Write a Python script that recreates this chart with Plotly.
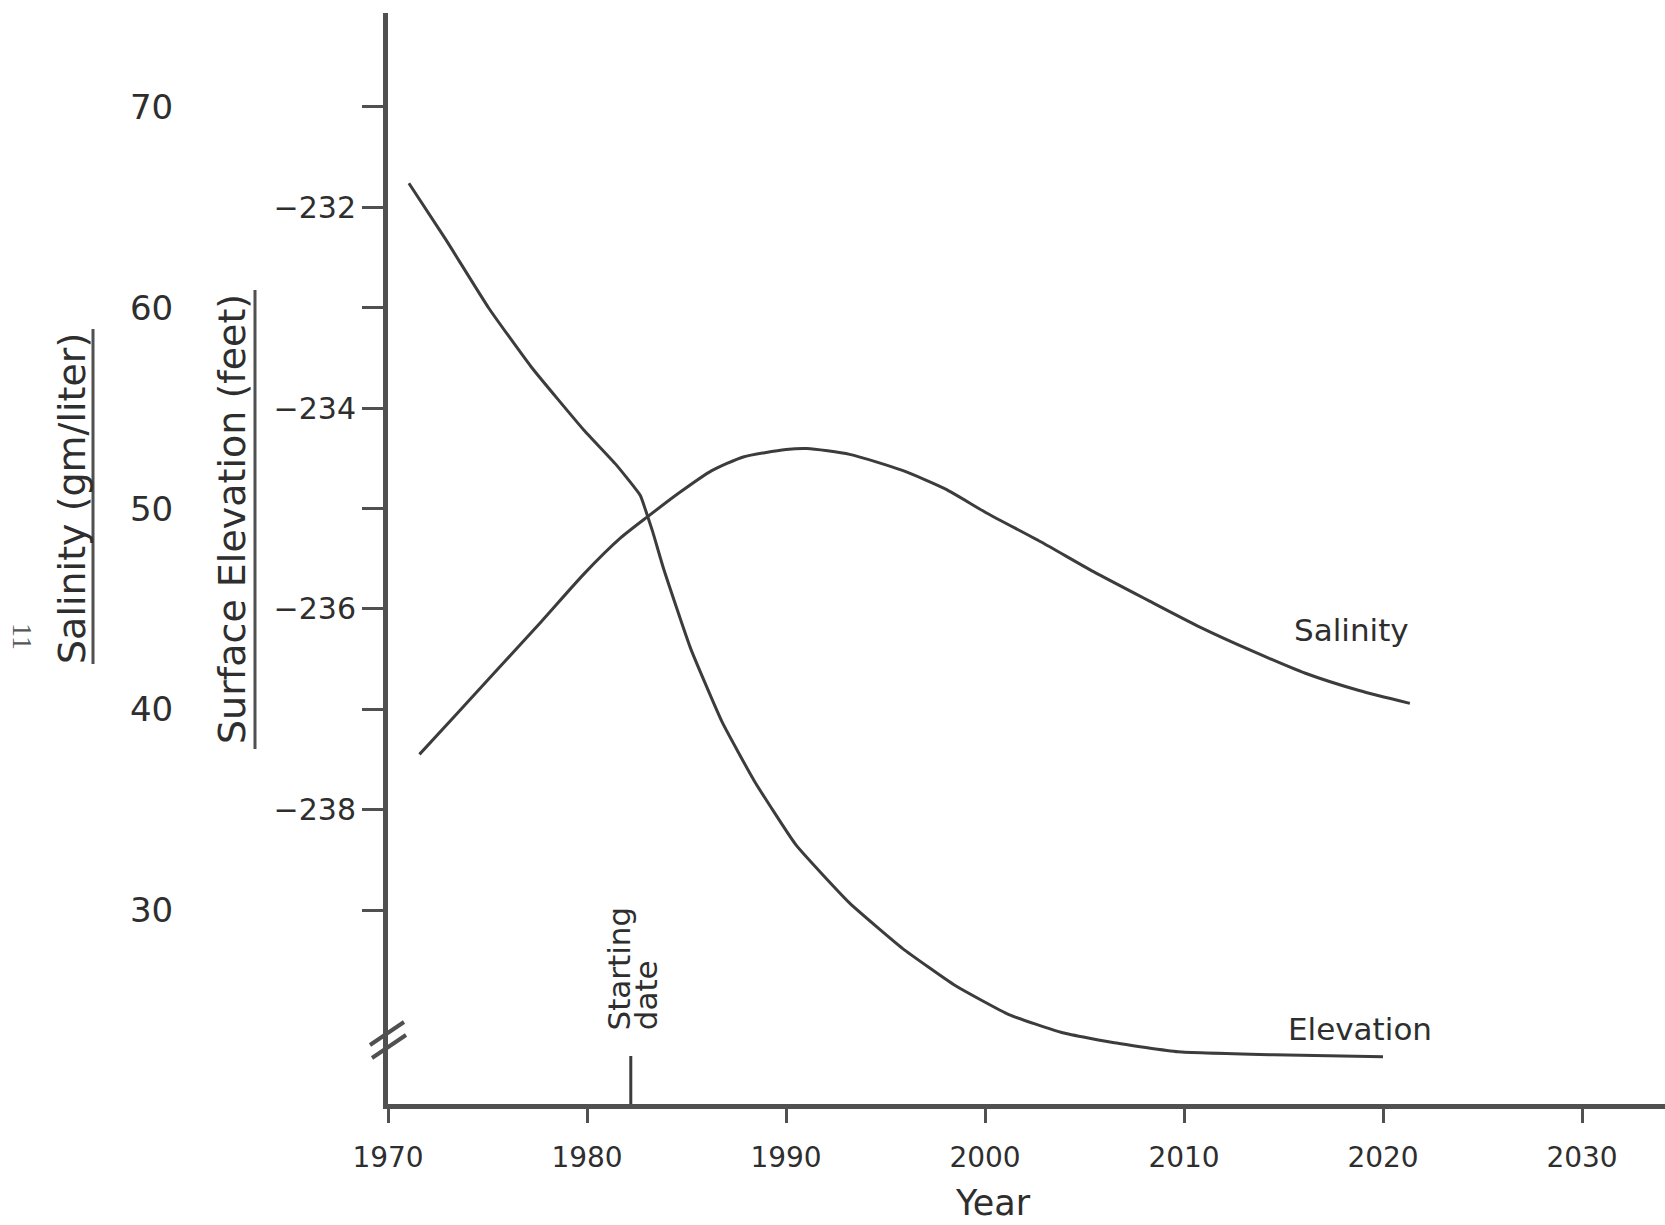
import plotly.graph_objects as go

# ---- data ----
elev_years = [1971.05, 1972.9, 1975.05, 1977.2, 1979.85, 1981.45, 1982.68, 1982.95, 1983.3,
              1983.85, 1985.2, 1986.8, 1988.4, 1990.5, 1993.2, 1995.85, 1998.5, 2001.2,
              2003.9, 2006.5, 2009.7, 2014.5, 2020.0]
elev_feet = [-231.76, -232.32, -233.00, -233.59, -234.22, -234.56, -234.87, -235.02, -235.23,
             -235.60, -236.39, -237.13, -237.71, -238.35, -238.93, -239.38, -239.75, -240.04,
             -240.22, -240.32, -240.41, -240.44, -240.46]

sal_years = [1971.58, 1973.45, 1975.6, 1977.7, 1979.85, 1981.7, 1983.05, 1984.65, 1986.25,
             1987.85, 1990.0, 1991.05, 1993.2, 1995.85, 1998.0, 2000.1, 2002.8, 2005.45,
             2008.1, 2010.8, 2013.45, 2016.1, 2018.8, 2021.35]
sal_gl = [37.76, 39.77, 42.1, 44.37, 46.75, 48.55, 49.6, 50.8, 51.88,
          52.57, 52.94, 52.99, 52.7, 51.9, 50.98, 49.77, 48.35, 46.86,
          45.48, 44.1, 42.9, 41.8, 40.94, 40.3]

year_ticks = [1970, 1980, 1990, 2000, 2010, 2020, 2030]
elev_tickvals = [-231, -232, -233, -234, -235, -236, -237, -238, -239]
elev_ticktext = ["", "−232", "", "−234", "", "−236", "", "−238", ""]
sal_tickvals = [30, 40, 50, 60, 70]
start_year = 1982.2

W, H = 1665, 1225
AX = "#505050"
LN = "#3c3c3c"
TX = "#2e2e2e"
FONT = "DejaVu Sans"

fig = go.Figure()
fig.add_trace(go.Scatter(x=elev_years, y=elev_feet, mode="lines", yaxis="y",
                         line=dict(color=LN, width=3, shape="spline", smoothing=0.4),
                         showlegend=False))
fig.add_trace(go.Scatter(x=sal_years, y=sal_gl, mode="lines", yaxis="y2",
                         line=dict(color=LN, width=3, shape="spline", smoothing=0.6),
                         showlegend=False))

plot_top, plot_bot = 13, 1104
ph = plot_bot - plot_top
def py(p):
    return (plot_bot - p) / ph
def px(p):
    return p / W

fig.update_layout(
    width=W, height=H,
    margin=dict(l=0, r=0, t=plot_top, b=H - plot_bot, autoexpand=False),
    paper_bgcolor="white", plot_bgcolor="white",
    showlegend=False,
    font=dict(family=FONT, color=TX),
    xaxis=dict(domain=[388 / W, 1], range=[1970, 2034.17], automargin=False,
               tickvals=year_ticks, ticktext=[str(v) for v in year_ticks],
               showline=True, linewidth=5, linecolor=AX,
               ticks="outside", ticklen=14, tickwidth=3, tickcolor=AX,
               showgrid=False, zeroline=False,
               tickfont=dict(size=28, color=TX), ticklabelstandoff=10),
    yaxis=dict(range=[-240.93, -230.065], anchor="x", automargin=False,
               tickvals=elev_tickvals, ticktext=elev_ticktext,
               showline=True, linewidth=5, linecolor=AX,
               ticks="outside", ticklen=21, tickwidth=3, tickcolor=AX,
               showgrid=False, zeroline=False,
               tickfont=dict(size=30, color=TX)),
    yaxis2=dict(range=[20.35, 74.68], overlaying="y", anchor="free", automargin=False,
                position=0.104, side="left",
                tickvals=sal_tickvals, ticktext=[str(v) for v in sal_tickvals],
                showline=False, ticks="", showgrid=False, zeroline=False,
                tickfont=dict(size=34, color=TX)),
)

C = dict(xanchor="center", yanchor="middle", showarrow=False)
annotations = [
    dict(text="Salinity (gm/liter)", x=px(72), y=py(499), xref="paper", yref="paper",
         textangle=-90, font=dict(size=38, color=TX), **C),
    dict(text="Surface Elevation (feet)", x=px(232), y=py(519), xref="paper", yref="paper",
         textangle=-90, font=dict(size=38, color=TX), **C),
    dict(text="Year", x=px(993), y=py(1203), xref="paper", yref="paper",
         font=dict(size=35, color=TX), **C),
    dict(text="11", x=px(23), y=py(636), xref="paper", yref="paper", textangle=90,
         font=dict(size=28, color="#555", family="Liberation Serif"), **C),
    dict(text="Salinity", x=2018.4, y=-236.21, xref="x", yref="y",
         font=dict(size=31, color=TX), **C),
    dict(text="Elevation", x=2018.85, y=-240.18, xref="x", yref="y",
         font=dict(size=31, color=TX), **C),
    dict(text="Starting", x=1981.61, y=-239.58, xref="x", yref="y", textangle=-90,
         font=dict(size=31, color=TX), **C),
    dict(text="date", x=1982.95, y=-239.85, xref="x", yref="y", textangle=-90,
         font=dict(size=31, color=TX), **C),
]
fig.update_layout(annotations=annotations)

shapes = [
    # starting-date marker
    dict(type="line", xref="x", yref="paper", x0=start_year, x1=start_year,
         y0=0, y1=py(1056), line=dict(color=LN, width=3)),
    # axis break marks
    dict(type="line", xref="paper", yref="paper", x0=px(370), y0=py(1045), x1=px(404), y1=py(1022),
         line=dict(color=AX, width=4)),
    dict(type="line", xref="paper", yref="paper", x0=px(372), y0=py(1058), x1=px(406), y1=py(1035),
         line=dict(color=AX, width=4)),
    # title underlines
    dict(type="line", xref="paper", yref="paper", x0=px(93), x1=px(93), y0=py(329), y1=py(664),
         line=dict(color=AX, width=3)),
    dict(type="line", xref="paper", yref="paper", x0=px(255), x1=px(255), y0=py(290), y1=py(749),
         line=dict(color=AX, width=3)),
]
fig.update_layout(shapes=shapes)

fig.write_html("out.html", config={"displayModeBar": False},
               post_script="document.body.style.margin='0px';")
